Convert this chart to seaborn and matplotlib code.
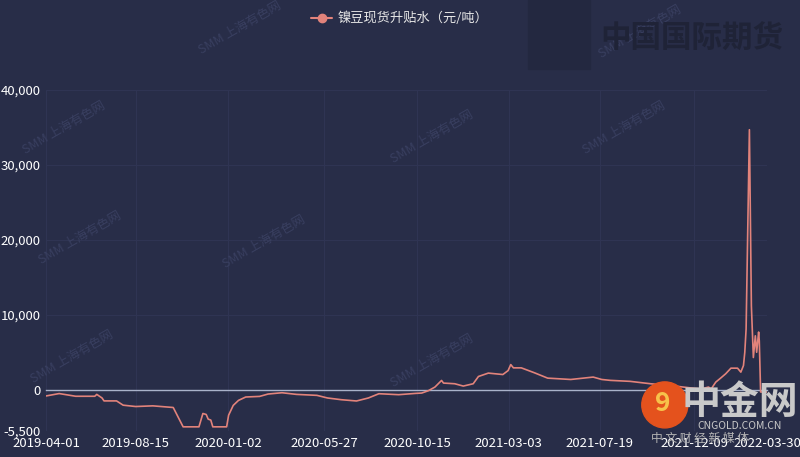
import numpy as np
import pandas as pd
import matplotlib
matplotlib.use('Agg')
import matplotlib.pyplot as plt
from matplotlib.lines import Line2D
from matplotlib.patches import Ellipse, Rectangle
import seaborn as sns

# ---- data (spot premium/discount, yuan/ton) ----
dates = ['2019-04-01', '2019-04-21', '2019-05-16', '2019-06-14', '2019-06-17', '2019-06-25',
         '2019-06-28', '2019-07-17', '2019-07-27', '2019-08-15', '2019-09-10', '2019-10-11',
         '2019-10-20', '2019-10-26', '2019-11-19', '2019-11-25', '2019-11-30', '2019-12-03',
         '2019-12-07', '2019-12-10', '2019-12-31', '2020-01-03', '2020-01-10', '2020-01-18',
         '2020-01-29', '2020-02-19', '2020-03-03', '2020-03-24', '2020-04-15', '2020-05-16',
         '2020-06-01', '2020-06-22', '2020-07-15', '2020-08-02', '2020-08-18', '2020-09-17',
         '2020-10-12', '2020-10-22', '2020-11-01', '2020-11-11', '2020-11-21', '2020-11-24',
         '2020-12-11', '2020-12-24', '2021-01-08', '2021-01-16', '2021-01-31', '2021-02-22',
         '2021-03-02', '2021-03-06', '2021-03-10', '2021-03-22', '2021-04-11', '2021-05-01',
         '2021-06-05', '2021-07-09', '2021-07-22', '2021-08-04', '2021-09-03', '2021-10-04',
         '2021-11-14', '2021-12-05', '2021-12-20', '2021-12-31', '2022-01-04', '2022-01-11',
         '2022-01-19', '2022-01-26', '2022-02-03', '2022-02-13', '2022-02-18', '2022-02-22',
         '2022-02-24', '2022-02-26', '2022-03-03', '2022-03-06', '2022-03-09', '2022-03-12',
         '2022-03-14', '2022-03-17', '2022-03-18', '2022-03-20', '2022-03-30']
premium = [-830, -510, -870, -870, -620, -1100,
           -1490, -1490, -2060, -2240, -2150, -2370,
           -3920, -4950, -4950, -3170, -3300, -3920,
           -4050, -4950, -4950, -3400, -2090, -1420,
           -970, -890, -570, -400, -620, -750,
           -1100, -1330, -1500, -1100, -530, -660,
           -490, -440, -130, 360, 1240, 890,
           800, 490, 800, 1770, 2220, 2030,
           2560, 3360, 2920, 2920, 2260, 1550,
           1370, 1690, 1370, 1250, 1120, 800,
           450, 230, 100, 360, 100, 1020,
           1600, 2130, 2880, 2880, 2350, 3230,
           5000, 8100, 34700, 11200, 4300, 7200,
           5000, 7700, 6500, -300, -300]

tick_dates = ['2019-04-01', '2019-08-15', '2020-01-02', '2020-05-27', '2020-10-15',
              '2021-03-03', '2021-07-19', '2021-12-09', '2022-03-30']
y_ticks = [-5500, 0, 10000, 20000, 30000, 40000]
series_name = '镍豆现货升贴水（元/吨）'

BG = '#282d48'
LINE = '#e2837b'
TXT = '#ffffff'
GRID = '#2f3453'
AXIS = '#a9b2ca'

sns.set_style('dark')
plt.rcParams['font.family'] = ['Noto Sans CJK SC', 'DejaVu Sans']

df = pd.DataFrame({'date': pd.to_datetime(dates), 'value': premium})

fig = plt.figure(figsize=(8, 4.57), dpi=100, facecolor=BG)
ax = fig.add_axes([0.0575, 0.057, 0.959 - 0.0575, 0.803 - 0.057])
ax.set_facecolor(BG)

# ---- faint watermarks ----
for (wx, wy) in [(0.30, 0.94), (0.54, 0.70), (0.33, 0.47), (0.08, 0.72), (0.09, 0.22),
                 (0.54, 0.21), (0.10, 0.48), (0.78, 0.72), (0.80, 0.93)]:
    fig.text(wx, wy, 'SMM 上海有色网', color='#393f60', fontsize=9, rotation=30,
             ha='center', va='center', zorder=0)
fig.patches.append(Rectangle((0.66, 0.85), 0.078, 0.15, transform=fig.transFigure,
                             color='#232840', zorder=0))
fig.text(0.865, 0.915, '中国国际期货', color='#1f2337', fontsize=22, fontweight='bold',
         ha='center', va='center', zorder=0)

sns.lineplot(data=df, x='date', y='value', ax=ax, color=LINE, linewidth=1.2,
             estimator=None, legend=False, zorder=3)

ax.set_xlim(pd.Timestamp(tick_dates[0]), pd.Timestamp(tick_dates[-1]))
ax.set_ylim(y_ticks[0], y_ticks[-1])
ax.set_xticks(pd.to_datetime(tick_dates))
ax.set_xticklabels(tick_dates)
ax.set_yticks(y_ticks)
ax.set_yticklabels([f'{v:,}' for v in y_ticks])
ax.set_xlabel('')
ax.set_ylabel('')

for s in ['top', 'right', 'left']:
    ax.spines[s].set_visible(False)
ax.spines['bottom'].set_position(('data', 0))
ax.spines['bottom'].set_color(AXIS)
ax.spines['bottom'].set_linewidth(1.0)

ax.tick_params(axis='x', colors=AXIS, labelcolor=TXT, direction='out', length=3,
               width=1, pad=31, labelsize=9.5)
ax.tick_params(axis='y', length=0, labelcolor=TXT, pad=4, labelsize=9.5)
ax.grid(True, color=GRID, linewidth=0.8)

handle = Line2D([], [], color=LINE, marker='o', markersize=6, linewidth=1.5)
fig.legend([handle], [series_name], loc='upper center', bbox_to_anchor=(0.5, 1.0),
           frameon=False, labelcolor='#e6e6e6', fontsize=9.5, handlelength=1.6,
           handletextpad=0.4)

# ---- CNGOLD logo watermark, bottom right ----
fig.patches.append(Ellipse((0.831, 0.114), 46 / 800, 46 / 457,
                           transform=fig.transFigure, color='#e4521d', zorder=5))
fig.text(0.829, 0.118, '9', color='#f7c24a', fontsize=19, fontweight='bold',
         ha='center', va='center', zorder=6)
fig.text(0.925, 0.12, '中金网', color='#c9c9c9', fontsize=28, fontweight='bold',
         ha='center', va='center', zorder=6)
fig.text(0.924, 0.068, 'CNGOLD.COM.CN', color='#c9c9c9', fontsize=7.5,
         ha='center', va='center', zorder=6)
fig.text(0.875, 0.04, '中 文 财 经 新 媒 体', color='#b5b5b5', fontsize=8.5,
         ha='center', va='center', zorder=6)

fig.savefig('out.png', dpi=100, facecolor=BG)
